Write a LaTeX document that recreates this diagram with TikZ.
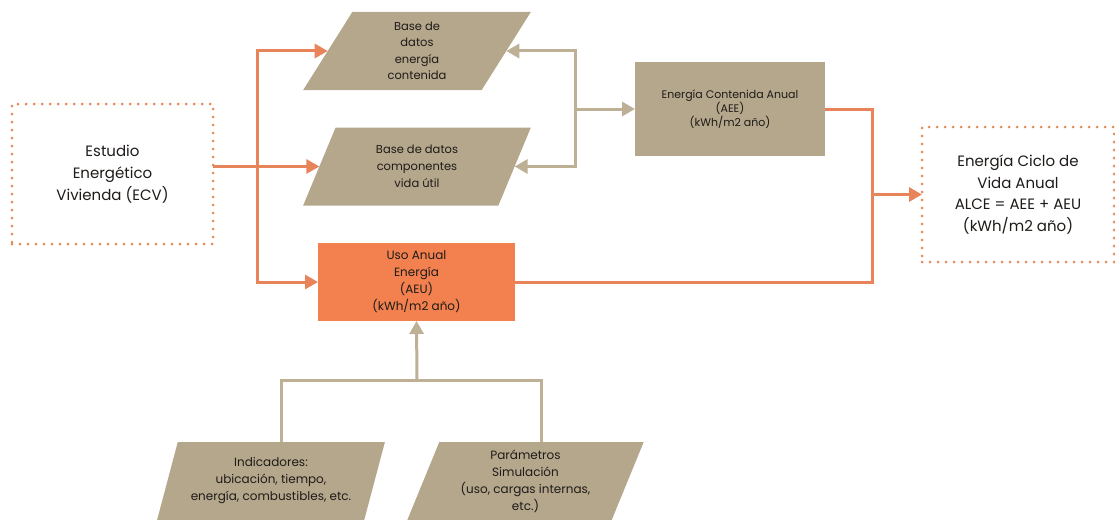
\documentclass[tikz,border=0pt]{standalone}
\usepackage{fontspec}
\setmainfont{Poppins}
\usetikzlibrary{arrows.meta,calc,shapes.geometric}

\definecolor{tanfill}{HTML}{B4A78B}
\definecolor{tanline}{HTML}{BDB095}
\definecolor{orline}{HTML}{E8845A}
\definecolor{orfill}{HTML}{F2814F}
\definecolor{dotc}{HTML}{E28B58}
\definecolor{txt}{HTML}{1E1B18}

\tikzset{
  x=1pt, y=-1pt,
  every node/.style={text=txt, inner sep=0pt, outer sep=0pt, align=center},
  dotbox/.style={rectangle, draw=dotc, line width=3pt, line cap=round,
    dash pattern=on 0pt off 8pt},
  tanbox/.style={rectangle, fill=tanfill},
  orbox/.style={rectangle, fill=orfill},
  datapar/.style={trapezium, trapezium left angle=69, trapezium right angle=111,
    trapezium stretches=true, fill=tanfill, minimum height=78pt},
  oline/.style={draw=orline, line width=3pt},
  tline/.style={draw=tanline, line width=3pt},
  otip/.style={-{Triangle[length=13pt,width=14pt]}},
}

\begin{document}
\begin{tikzpicture}
\useasboundingbox (0,0) rectangle (1115,519);

% boxes
\node[dotbox, minimum width=201pt, minimum height=140pt, font=\fontsize{15}{22}\selectfont]
  (ecv) at (112.5,174) {Estudio\\Energético\\Vivienda (ECV)};
\node[datapar, minimum width=228pt, font=\fontsize{11.5}{16.5}\selectfont]
  (bd1) at (417,51) {Base de\\datos\\energía\\contenida};
\node[datapar, minimum width=228pt, font=\fontsize{11.5}{17}\selectfont]
  (bd2) at (417,166.5) {Base de datos\\componentes\\vida útil};
\node[tanbox, minimum width=190pt, minimum height=94pt, font=\fontsize{11}{14}\selectfont]
  (aee) at (730,109) {Energía Contenida Anual\\(AEE)\\(kWh/m2 año)};
\node[dotbox, minimum width=192pt, minimum height=135pt, font=\fontsize{15}{21.5}\selectfont]
  (alce) at (1018,194.5) {Energía Ciclo de\\Vida Anual\\ALCE = AEE + AEU\\(kWh/m2 año)};
\node[orbox, minimum width=197pt, minimum height=78pt, font=\fontsize{12}{17}\selectfont]
  (aeu) at (416.5,282) {Uso Anual\\Energía\\(AEU)\\(kWh/m2 año)};
\node[datapar, minimum width=228pt, font=\fontsize{12}{17}\selectfont]
  (ind) at (271,481) {Indicadores:\\ubicación, tiempo,\\energía, combustibles, etc.};
\node[datapar, minimum width=237pt, font=\fontsize{12}{17}\selectfont]
  (par) at (525.5,481) {Parámetros\\Simulación\\(uso, cargas internas,\\etc.)};

% junction points
\coordinate (j) at (257,166.5);
\coordinate (k) at (575,109);
\coordinate (m) at (872,194.5);
\coordinate (n) at (417,380);
\coordinate (indtop) at ($(ind.top left corner)!0.5!(ind.top right corner)$);
\coordinate (partop) at ($(par.top left corner)!0.5!(par.top right corner)$);

% orange flow from the housing study
\draw[oline, otip] (ecv.east |- bd2.west) -- (bd2.west);
\draw[oline, otip] (j) |- (bd1.west);
\draw[oline, otip] (j) |- (aeu.west);

% tan links between databases and embodied energy
\draw[tline, otip] (k) |- (bd1.east);
\draw[tline, otip] (k) |- (bd2.east);
\draw[tline, otip] (k) -- (aee.west);

% orange flow into the life cycle total
\draw[oline] (aee.east) -| (m);
\draw[oline] (aeu.east) -| (m);
\draw[oline, otip] (m) -- (alce.west);

% tan inputs to annual energy use
\draw[tline] (indtop) |- (n) -| (partop);
\draw[tline, otip] (n) -- (aeu.south);
\end{tikzpicture}
\end{document}
